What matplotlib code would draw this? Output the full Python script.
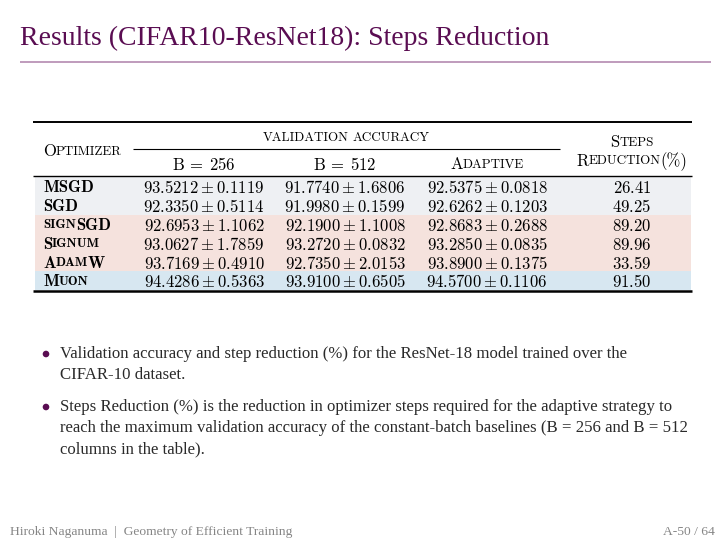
import matplotlib
matplotlib.use("Agg")
import matplotlib.pyplot as plt
from matplotlib.patches import Rectangle, Circle

plt.rcParams['mathtext.fontset'] = 'cm'

# ---------------- data ----------------
optimizers = ["MSGD", "SGD", "signSGD", "Signum", "AdamW", "Muon"]
acc_256_mean = [93.5212, 92.3350, 92.6953, 93.0627, 93.7169, 94.4286]
acc_256_std = [0.1119, 0.5114, 1.1062, 1.7859, 0.4910, 0.5363]
acc_512_mean = [91.7740, 91.9980, 92.1900, 93.2720, 92.7350, 93.9100]
acc_512_std = [1.6806, 0.1599, 1.1008, 0.0832, 2.0153, 0.6505]
acc_ada_mean = [92.5375, 92.6262, 92.8683, 93.2850, 93.8900, 94.5700]
acc_ada_std = [0.0818, 0.1203, 0.2688, 0.0835, 0.1375, 0.1106]
steps_reduction = [26.41, 49.25, 89.20, 89.96, 33.59, 91.50]
row_groups = ["sgd", "sgd", "sign", "sign", "sign", "muon"]
batch_sizes = [256, 512]

title = "Results (CIFAR10-ResNet18): Steps Reduction"
bullets = [
    ["Validation accuracy and step reduction (%) for the ResNet-18 model trained over the",
     "CIFAR-10 dataset."],
    ["Steps Reduction (%) is the reduction in optimizer steps required for the adaptive strategy to",
     "reach the maximum validation accuracy of the constant-batch baselines (B = 256 and B = 512",
     "columns in the table)."],
]
footer_left = "Hiroki Naganuma  |  Geometry of Efficient Training"
footer_right = "A-50 / 64"

# ---------------- style ----------------
W, H = 726, 544
PURPLE = "#5a0d52"
RULE_PURPLE = "#b48ab0"
band_colors = {"sgd": "#eef0f3", "sign": "#f5e2dd", "muon": "#d7e7f1"}
SERIF = ["Liberation Serif", "DejaVu Serif"]

fig = plt.figure(figsize=(W / 100, H / 100), dpi=100)
ax = fig.add_axes([0, 0, 1, 1])
ax.set_xlim(0, W)
ax.set_ylim(H, 0)
ax.axis("off")
renderer = fig.canvas.get_renderer()

BIG, SMALL = 12, 9.4


def segtext(x, y, parts, ha="left", va="center_baseline", color="black"):
    """Draw a sequence of (string, size, family) pieces next to each other.
    A piece whose string is None is a blank gap of `size` pixels."""
    items = []
    for s, size, fam in parts:
        if s is None:
            items.append((None, size))
        else:
            t = ax.text(0, y, s, fontsize=size, family=fam, va=va, ha="left", color=color)
            items.append((t, t.get_window_extent(renderer).width))
    total = sum(w for _, w in items)
    x0 = x - total / 2 if ha == "center" else (x - total if ha == "right" else x)
    for t, w in items:
        if t is not None:
            t.set_x(x0)
        x0 += w


def sc(word, fam="cmr10"):
    """small caps: first letter big, rest small uppercase"""
    return [(word[0].upper(), BIG, fam), (word[1:].upper(), SMALL, fam)]


name_parts = {
    "MSGD": [("MSGD", BIG, "cmb10")],
    "SGD": [("SGD", BIG, "cmb10")],
    "signSGD": [("SIGN", SMALL, "cmb10"), ("SGD", BIG, "cmb10")],
    "Signum": sc("Signum", "cmb10"),
    "AdamW": [("A", BIG, "cmb10"), ("DAM", SMALL, "cmb10"), ("W", BIG, "cmb10")],
    "Muon": sc("Muon", "cmb10"),
}

# ---------------- title ----------------
ax.text(20, 38, title, fontsize=20, family=SERIF, color=PURPLE, va="center", ha="left")
ax.plot([20, 711], [62, 62], color=RULE_PURPLE, lw=1.2, solid_capstyle="butt")

# ---------------- table ----------------
x_left, x_right = 33, 692
top_rule, cmid_y, mid_rule = 122, 148.5, 176
row_top, row_h = 177, 18.8
col_x = [204, 345, 487]
steps_x = 632
name_x = 43

n = len(optimizers)
for i in range(n):
    ax.add_patch(Rectangle((x_left + 2, row_top + i * row_h), x_right - x_left - 3, row_h,
                           facecolor=band_colors[row_groups[i]], edgecolor="none"))
bottom_rule = row_top + n * row_h + 1.5

ax.plot([x_left, x_right], [top_rule, top_rule], color="black", lw=1.4, solid_capstyle="butt")
ax.plot([133, 560], [cmid_y, cmid_y], color="black", lw=0.8, solid_capstyle="butt")
ax.plot([x_left, x_right], [mid_rule, mid_rule], color="black", lw=1.0, solid_capstyle="butt")
ax.plot([x_left, x_right], [bottom_rule, bottom_rule], color="black", lw=1.8, solid_capstyle="butt")

# headers
segtext(name_x, 150, sc("Optimizer"))
segtext(346, 136, [("VALIDATION", SMALL, "cmr10"), (None, 4.5, None),
                   ("ACCURACY", SMALL, "cmr10")], ha="center")
for cx, b in zip(col_x[:2], batch_sizes):
    segtext(cx, 163, [(r"$\mathrm{B}\:=\:%d$" % b, BIG, "cmr10")], ha="center")
segtext(col_x[2], 163, sc("Adaptive"), ha="center")
segtext(steps_x, 141, sc("Steps"), ha="center")
segtext(steps_x, 159.5, sc("Reduction") + [("(%)", BIG, "cmr10")], ha="center")

# body
cols = [(acc_256_mean, acc_256_std), (acc_512_mean, acc_512_std), (acc_ada_mean, acc_ada_std)]
for i, name in enumerate(optimizers):
    yc = row_top + (i + 0.5) * row_h
    segtext(name_x, yc, name_parts[name])
    for cx, (m, s) in zip(col_x, cols):
        ax.text(cx, yc, r"$%.4f \pm %.4f$" % (m[i], s[i]), fontsize=BIG,
                ha="center", va="center_baseline")
    ax.text(steps_x, yc, r"$%.2f$" % steps_reduction[i], fontsize=BIG,
            ha="center", va="center_baseline")

# ---------------- bullets ----------------
line_h = 21
y = 354
for para in bullets:
    ax.add_patch(Circle((46, y), 3.3, facecolor=PURPLE, edgecolor="none"))
    for j, line in enumerate(para):
        ax.text(60, y + j * line_h, line, fontsize=12.1, family=SERIF, color="#2a2a2a",
                va="center", ha="left")
    y += len(para) * line_h + 11

# ---------------- footer ----------------
ax.text(10, 532, footer_left, fontsize=9.7, family=SERIF, color="#858585", va="center", ha="left")
ax.text(715, 532, footer_right, fontsize=9.7, family=SERIF, color="#858585", va="center", ha="right")

fig.savefig("out.png", dpi=100, facecolor="white")
